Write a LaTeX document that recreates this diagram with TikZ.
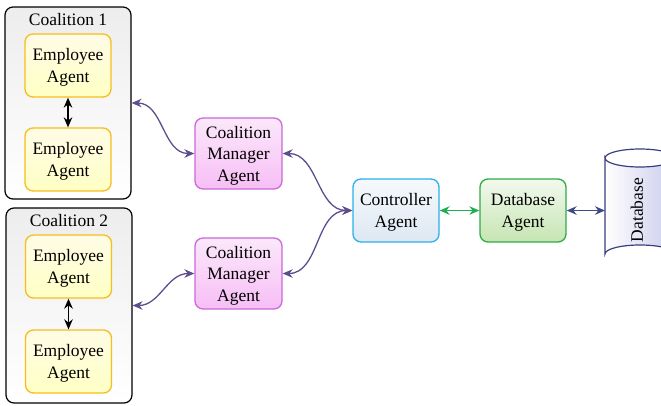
\documentclass[tikz,border=0pt]{standalone}
\usepackage{fontspec}
\setmainfont{Liberation Serif}
\usetikzlibrary{arrows.meta}
\definecolor{empB}{HTML}{F5BE1E}
\definecolor{empT}{HTML}{FFFCE6}
\definecolor{empBot}{HTML}{FFFFC4}
\definecolor{mgrB}{HTML}{C86AD8}
\definecolor{mgrT}{HTML}{FBE8FB}
\definecolor{mgrBot}{HTML}{F7BEF5}
\definecolor{ctlB}{HTML}{2BB0EA}
\definecolor{ctlT}{HTML}{F6F9FC}
\definecolor{ctlBot}{HTML}{DDE8F3}
\definecolor{dbaB}{HTML}{2FAA48}
\definecolor{dbaT}{HTML}{F2F9EE}
\definecolor{dbaBot}{HTML}{C6E5B2}
\definecolor{purp}{HTML}{5E4D8C}
\definecolor{grn}{HTML}{1DAF50}
\definecolor{navy}{HTML}{3D4A86}
\definecolor{cylB}{HTML}{3A3F7E}
\definecolor{cylF}{HTML}{C9CBEC}
\tikzset{
  x=1pt, y=-1pt,
  txt/.style={font=\fontsize{17.5}{21.5}\selectfont, align=center, inner sep=0pt},
  box/.style={txt, text depth=0pt, rounded corners=8pt, line width=1.3pt, minimum width=86pt, minimum height=63pt},
  coal/.style={rounded corners=8pt, line width=1.2pt, draw=black, top color=black!7, bottom color=white, minimum width=126pt},
  emp/.style={box, draw=empB, top color=empT, bottom color=empBot},
  mgr/.style={box, draw=mgrB, top color=mgrT, bottom color=mgrBot, minimum height=71pt, minimum width=87pt},
  ctl/.style={box, draw=ctlB, top color=ctlT, bottom color=ctlBot},
  dba/.style={box, draw=dbaB, top color=dbaT, bottom color=dbaBot},
  biarrow/.style={line width=1.3pt, {Stealth[length=10pt,width=8.5pt]}-{Stealth[length=10pt,width=8.5pt]}},
}
\begin{document}
\begin{tikzpicture}
\useasboundingbox (0,0) rectangle (661,405);
% coalitions
\node[coal, minimum height=192pt] (c1) at (68,103) {};
\node[coal, minimum height=195pt] (c2) at (69,305.5) {};
\node[txt, anchor=center] (c1t) at (68,19.5) {Coalition 1};
\node[txt, anchor=center] (c2t) at (69,220.5) {Coalition 2};
% employees
\node[emp] (e11) at (68,65.5) {Employee\\Agent};
\node[emp] (e12) at (68,159.5) {Employee\\Agent};
\node[emp] (e21) at (68.5,266.5) {Employee\\Agent};
\node[emp] (e22) at (68.5,361.5) {Employee\\Agent};
\draw[biarrow, black, line width=1.6pt] (e11) -- (e12);
\draw[biarrow, black, line width=1.6pt] (e21) -- (e22);
% managers
\node[mgr] (m1) at (238.5,153.5) {Coalition\\Manager\\Agent};
\node[mgr] (m2) at (238.5,273.5) {Coalition\\Manager\\Agent};
% controller & db agent
\node[ctl] (ctl) at (396,210.5) {Controller\\Agent};
\node[dba] (dba) at (523,210.5) {Database\\Agent};
% database cylinder
\path[draw=cylB, line width=1.2pt, left color=white, right color=cylF]
  (605,158) -- (605,254) arc[start angle=180, end angle=360, x radius=35, y radius=9]
  -- (675,158) arc[start angle=0, end angle=180, x radius=35, y radius=9] -- cycle;
\draw[cylB, line width=1.2pt] (605,158) arc[start angle=180, end angle=360, x radius=35, y radius=9];
\node[txt, rotate=90] (db) at (637,210) {Database};
\coordinate (dbin) at (605,210.5);
% connectors
\draw[biarrow, purp] (c1.east) to[out=0,in=180] (m1.west);
\draw[biarrow, purp] (c2.east) to[out=0,in=180] (m2.west);
\draw[biarrow, purp] (m1.east) to[out=0,in=180] (ctl.west);
\draw[biarrow, purp] (m2.east) to[out=0,in=180] (ctl.west);
\draw[biarrow, grn] (ctl.east) -- (dba.west);
\draw[biarrow, navy] (dba.east) -- (dbin);
\end{tikzpicture}
\end{document}
